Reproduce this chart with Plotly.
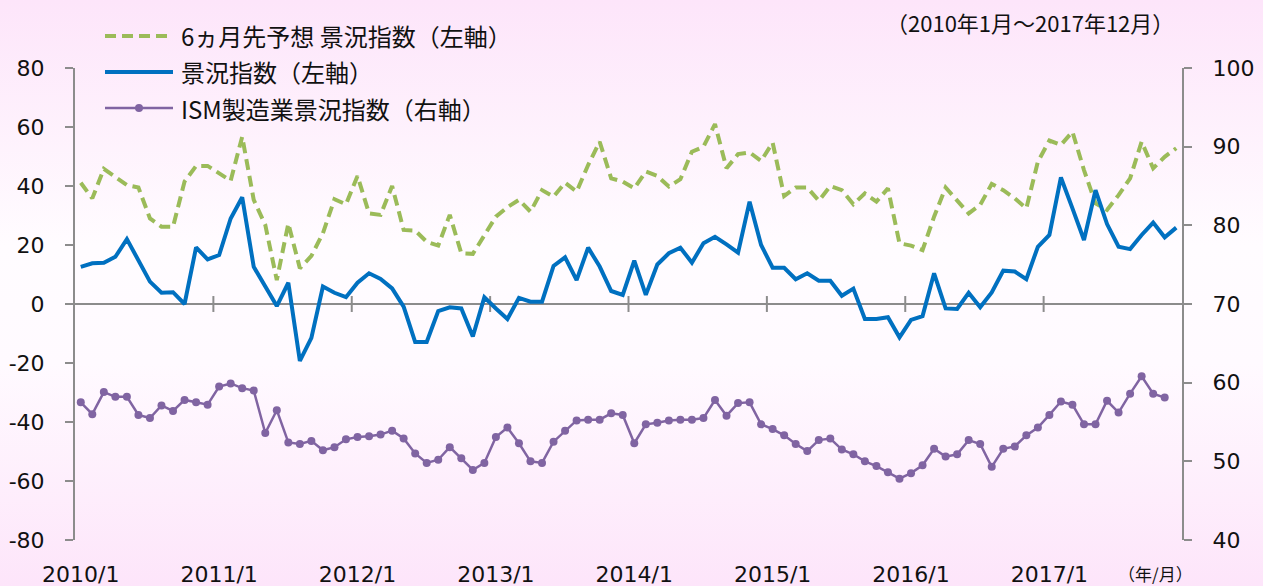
import base64
import plotly.graph_objects as go

# ---------------- data ----------------
months = [f"{y}/{m}" for y in range(2010, 2018) for m in range(1, 13)]
tick_labels = ["2010/1", "2011/1", "2012/1", "2013/1", "2014/1", "2015/1", "2016/1", "2017/1"]
left_ticks = [-80, -60, -40, -20, 0, 20, 40, 60, 80]
right_ticks = [40, 50, 60, 70, 80, 90, 100]

forecast_6m = [41.1, 35.8, 45.8, 42.9, 40.3, 39.5, 29.0, 26.2, 26.2, 41.5, 46.8, 46.8,
               44.1, 41.8, 56.7, 35.3, 26.8, 8.1, 27.3, 12.1, 16.3, 24.0, 35.5, 33.8,
               43.4, 30.7, 30.2, 40.0, 25.1, 24.9, 21.1, 19.8, 30.2, 17.2, 17.0, 23.4,
               29.6, 32.8, 35.3, 31.3, 38.6, 36.4, 41.1, 38.1, 47.1, 55.0, 42.6, 41.5,
               39.2, 44.9, 43.4, 39.8, 42.3, 51.6, 53.3, 61.0, 46.0, 50.8, 51.4, 48.5,
               54.7, 36.6, 39.5, 39.5, 35.0, 40.0, 38.6, 33.8, 37.5, 34.7, 39.2, 20.6,
               19.8, 18.3, 29.6, 39.5, 35.3, 30.7, 33.6, 40.7, 38.6, 35.8, 32.4, 48.2,
               55.4, 53.9, 58.4, 45.4, 34.1, 31.9, 36.9, 42.6, 55.0, 46.0, 49.9, 52.8]

business_index = [12.6, 13.8, 14.0, 16.0, 22.0, 14.9, 7.6, 3.8, 4.0, 0.0, 19.2, 15.1,
                  16.6, 29.0, 36.2, 12.6, 5.9, -0.7, 7.2, -19.3, -11.5, 5.9, 3.8, 2.3,
                  7.2, 10.4, 8.5, 5.3, -0.9, -12.9, -12.9, -2.4, -1.1, -1.5, -11.0, 2.3,
                  -1.5, -5.1, 2.1, 0.8, 0.8, 12.9, 15.8, 8.1, 19.1, 12.7, 4.4, 3.1,
                  14.7, 3.1, 13.4, 17.2, 19.1, 14.0, 20.6, 22.8, 20.2, 17.4, 34.7, 20.0,
                  12.3, 12.3, 8.4, 10.4, 7.9, 7.9, 2.8, 5.2, -5.1, -5.1, -4.5, -11.3,
                  -5.4, -4.1, 10.4, -1.5, -1.7, 3.8, -1.1, 3.9, 11.3, 11.0, 8.4, 19.4,
                  23.4, 42.9, 32.4, 21.7, 38.6, 27.1, 19.4, 18.6, 23.4, 27.6, 22.6, 25.9]

ism_manufacturing = [57.5, 56.0, 58.8, 58.2, 58.2, 55.9, 55.5, 57.1, 56.4, 57.8, 57.5, 57.2,
                     59.5, 59.9, 59.3, 59.0, 53.6, 56.5, 52.4, 52.2, 52.6, 51.4, 51.8, 52.8,
                     53.1, 53.2, 53.4, 53.9, 52.9, 51.0, 49.8, 50.2, 51.8, 50.4, 48.9, 49.8,
                     53.1, 54.3, 52.3, 50.0, 49.8, 52.5, 53.9, 55.2, 55.3, 55.3, 56.1, 55.9,
                     52.3, 54.7, 54.9, 55.2, 55.3, 55.3, 55.5, 57.8, 55.8, 57.4, 57.5, 54.7,
                     54.1, 53.3, 52.2, 51.3, 52.7, 52.9, 51.5, 50.9, 50.0, 49.4, 48.6, 47.8,
                     48.5, 49.5, 51.6, 50.6, 50.9, 52.7, 52.2, 49.3, 51.6, 51.9, 53.3, 54.3,
                     55.9, 57.6, 57.2, 54.7, 54.7, 57.7, 56.2, 58.6, 60.8, 58.6, 58.1, None]

legend_names = ["6ヵ月先予想 景況指数（左軸）", "景況指数（左軸）", "ISM製造業景況指数（右軸）"]
subtitle = "（2010年1月～2017年12月）"
unit_label = "（年/月）"

# ---------------- styling ----------------
GREEN = "#9BBB59"
BLUE = "#0070C0"
PURPLE = "#8064A2"
AXIS = "#8C8C8C"
TEXT = "#111111"
NUM_FONT = "DejaVu Sans, Noto Sans CJK JP"
JP_FONT = "Noto Sans CJK JP, DejaVu Sans"

W, H = 1263, 586
ML, MR, MT, MB = 75, 81, 68, 46
PW, PH = W - ML - MR, H - MT - MB


def px(xp):
    return (xp - ML) / PW


def py(yp):
    return 1 - (yp - MT) / PH


idx = list(range(len(months)))

fig = go.Figure()
fig.add_trace(go.Scatter(x=idx, y=forecast_6m, mode="lines", name=legend_names[0],
                         line=dict(color=GREEN, width=4, dash="11px,6px"), showlegend=False))
fig.add_trace(go.Scatter(x=idx, y=business_index, mode="lines", name=legend_names[1],
                         line=dict(color=BLUE, width=4), showlegend=False))
fig.add_trace(go.Scatter(x=idx, y=ism_manufacturing, mode="lines+markers", name=legend_names[2],
                         line=dict(color=PURPLE, width=2.5), marker=dict(color=PURPLE, size=8),
                         yaxis="y2", showlegend=False))

# background gradient
svg = ('<svg xmlns="http://www.w3.org/2000/svg" width="100" height="100" viewBox="0 0 100 100" '
       'preserveAspectRatio="none"><defs><linearGradient id="g" x1="0" y1="0" x2="0" y2="1">'
       '<stop offset="0" stop-color="#FDE5FA"/>'
       '<stop offset="0.42" stop-color="#FFFCFF"/>'
       '<stop offset="0.62" stop-color="#FFFAFF"/>'
       '<stop offset="1" stop-color="#FDE5FA"/>'
       '</linearGradient></defs><rect width="100" height="100" fill="url(#g)"/></svg>')
src = "data:image/svg+xml;base64," + base64.b64encode(svg.encode()).decode()
fig.add_layout_image(dict(source=src, xref="paper", yref="paper", x=px(0), y=py(0),
                          sizex=W / PW, sizey=H / PH, xanchor="left", yanchor="top",
                          sizing="stretch", layer="below"))

# year tick marks on the zero line (category boundaries)
for k in range(1, len(tick_labels)):
    b = 12 * k - 0.5
    fig.add_shape(type="line", xref="x", yref="y", x0=b, x1=b, y0=-2.7, y1=2.7,
                  line=dict(color=AXIS, width=2), layer="below")

# manual legend
rows = [36, 72, 108]
lx0, lx1, ltx = 105, 173, 179
fig.add_shape(type="line", xref="paper", yref="paper", x0=px(lx0), x1=px(lx1), y0=py(rows[0]), y1=py(rows[0]),
              line=dict(color=GREEN, width=4, dash="11px,6px"))
fig.add_shape(type="line", xref="paper", yref="paper", x0=px(lx0), x1=px(lx1), y0=py(rows[1]), y1=py(rows[1]),
              line=dict(color=BLUE, width=4))
fig.add_shape(type="line", xref="paper", yref="paper", x0=px(lx0), x1=px(lx1), y0=py(rows[2]), y1=py(rows[2]),
              line=dict(color=PURPLE, width=2.5))
cx = (lx0 + lx1) / 2
fig.add_shape(type="circle", xref="paper", yref="paper", x0=px(cx - 4), x1=px(cx + 4),
              y0=py(rows[2] + 4), y1=py(rows[2] - 4), fillcolor=PURPLE, line=dict(color=PURPLE, width=0))
for r, name in zip(rows, legend_names):
    fig.add_annotation(text=name, xref="paper", yref="paper", x=px(ltx), y=py(r),
                       xanchor="left", yanchor="middle", showarrow=False,
                       font=dict(family=JP_FONT, size=24, color=TEXT))

fig.add_annotation(text=subtitle, xref="paper", yref="paper", x=px(1176), y=py(22),
                   xanchor="right", yanchor="middle", showarrow=False,
                   font=dict(family=JP_FONT, size=22, color=TEXT))
fig.add_annotation(text=unit_label, xref="paper", yref="paper", x=px(1155), y=py(573),
                   xanchor="center", yanchor="middle", showarrow=False,
                   font=dict(family=JP_FONT, size=17, color=TEXT))

fig.update_layout(
    width=W, height=H,
    margin=dict(l=ML, r=MR, t=MT, b=MB, pad=0, autoexpand=False),
    paper_bgcolor="white",
    plot_bgcolor="rgba(0,0,0,0)",
    showlegend=False,
    xaxis=dict(range=[-0.5, len(months) - 0.5], tickmode="array", automargin=False,
               tickvals=[12 * k for k in range(len(tick_labels))], ticktext=tick_labels,
               showgrid=False, zeroline=False, showline=False, ticks="",
               ticklabelstandoff=19,
               tickfont=dict(family=NUM_FONT, size=22, color=TEXT)),
    yaxis=dict(range=[-80, 80], tickmode="array", tickvals=left_ticks,
               ticktext=[str(v) for v in left_ticks], automargin=False,
               showgrid=False, zeroline=True,
               zerolinecolor=AXIS, zerolinewidth=2, showline=True, linecolor=AXIS, linewidth=2,
               ticks="outside", ticklen=8, tickwidth=2, tickcolor=AXIS, ticklabelstandoff=16,
               tickfont=dict(family=NUM_FONT, size=22, color=TEXT)),
    yaxis2=dict(range=[40, 100], tickmode="array", tickvals=right_ticks,
                ticktext=[str(v) for v in right_ticks], automargin=False,
                overlaying="y", side="right", showgrid=False,
                zeroline=False, showline=True, linecolor=AXIS, linewidth=2,
                ticks="outside", ticklen=8, tickwidth=2, tickcolor=AXIS, ticklabelstandoff=16,
                tickfont=dict(family=NUM_FONT, size=22, color=TEXT)),
)

fig.write_html("out.html")
